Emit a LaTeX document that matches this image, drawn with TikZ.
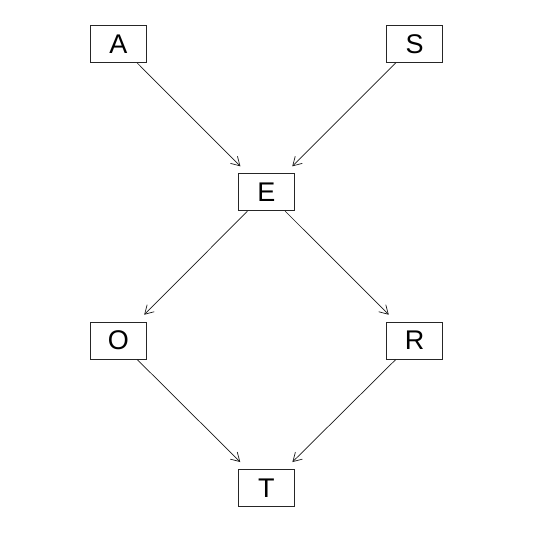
\documentclass[tikz,border=0pt]{standalone}
\usepackage{fontspec}
\setmainfont{Liberation Sans}
\usetikzlibrary{arrows.meta}
\begin{document}
\begin{tikzpicture}[x=1pt,y=-1pt,
  vbox/.style={draw=black!85,line width=0.8pt,minimum width=56pt,minimum height=37pt,inner sep=0pt,
    font=\fontsize{27}{30}\selectfont},
  edge/.style={draw=black!90,line width=0.7pt,-{Straight Barb[length=8.5pt,width=10pt,line width=0.7pt]},shorten >=10pt}]
\useasboundingbox (0,0) rectangle (533,533);
\node[vbox] (A) at (118.3,44) {A};
\node[vbox] (S) at (414.7,44) {S};
\node[vbox] (E) at (266.3,192.3) {E};
\node[vbox] (O) at (118.3,340.7) {O};
\node[vbox] (R) at (414.7,340.7) {R};
\node[vbox] (T) at (266.3,488) {T};
\draw[edge] (A) -- (E);
\draw[edge] (S) -- (E);
\draw[edge] (E) -- (O);
\draw[edge] (E) -- (R);
\draw[edge] (O) -- (T);
\draw[edge] (R) -- (T);
\end{tikzpicture}
\end{document}
